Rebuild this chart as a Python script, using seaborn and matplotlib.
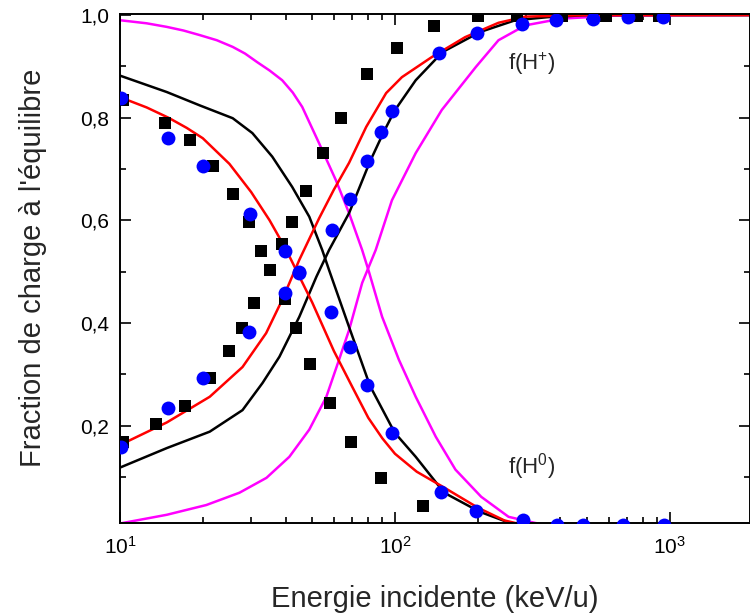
import numpy as np
import pandas as pd
import matplotlib
matplotlib.use("Agg")
import matplotlib.pyplot as plt
import seaborn as sns
from matplotlib.ticker import FixedLocator, FuncFormatter, LogLocator, NullFormatter

# experimental data, black squares (two branches)
sq_e_h0 = [10.25, 14.6, 18.0, 21.7, 25.8, 29.5, 32.5, 39.7, 43.8, 49.2, 58.0, 69.5, 89.1, 126]
sq_f_h0 = [0.835, 0.790, 0.757, 0.705, 0.652, 0.596, 0.540, 0.447, 0.390, 0.320, 0.243, 0.167, 0.097, 0.043]
sq_e_hp = [10.25, 13.5, 17.2, 21.2, 25.0, 27.8, 30.7, 35.1, 38.7, 42.4, 47.6, 54.7, 63.5, 79.4,
           101.6, 139, 200, 278, 406, 584, 762, 913]
sq_f_hp = [0.167, 0.202, 0.239, 0.293, 0.346, 0.390, 0.439, 0.503, 0.553, 0.596, 0.658, 0.732, 0.800, 0.885,
           0.936, 0.979, 0.998, 0.998, 0.998, 0.998, 0.998, 0.998]

# blue circles
ci_e_h0 = [10.1, 14.9, 20.0, 29.7, 39.7, 44.8, 58.4, 68.4, 79.4, 97.6, 147, 197, 292, 390, 484, 673, 951]
ci_f_h0 = [0.839, 0.761, 0.705, 0.612, 0.540, 0.500, 0.421, 0.353, 0.278, 0.186, 0.070, 0.033, 0.016,
           0.006, 0.006, 0.006, 0.006]
ci_e_hp = [10.1, 14.9, 20.0, 29.5, 39.7, 44.8, 59.0, 68.4, 79.4, 89.1, 97.6, 145, 198, 290, 384, 525, 707, 944]
ci_f_hp = [0.159, 0.235, 0.293, 0.383, 0.458, 0.497, 0.581, 0.641, 0.715, 0.773, 0.814, 0.926, 0.965,
           0.983, 0.990, 0.992, 0.996, 0.996]

# calculations (curves)
red_e_h0 = [10, 12.5, 15, 17.5, 20, 25, 30, 35, 40, 50, 60, 70, 80, 90, 100, 120, 150, 200, 250, 300, 500, 2000]
red_f_h0 = [0.84, 0.82, 0.80, 0.78, 0.76, 0.71, 0.655, 0.60, 0.545, 0.44, 0.345, 0.275, 0.215, 0.175, 0.145,
            0.11, 0.08, 0.04, 0.015, 0.005, 0.0, 0.0]
red_e_hp = [10, 14.8, 21.2, 27.9, 34.0, 38.9, 44.9, 53.0, 60.0, 68.1, 78.6, 92.9, 106, 136, 180, 238, 298,
            500, 2000]
red_f_hp = [0.162, 0.206, 0.256, 0.314, 0.380, 0.445, 0.523, 0.604, 0.660, 0.712, 0.782, 0.848, 0.879, 0.918,
            0.957, 0.985, 0.997, 1.0, 1.0]

blk_e_h0 = [10, 14.8, 19.5, 25.7, 30.3, 35.8, 42.3, 48.8, 54.4, 57.6, 68.1, 81.2, 99.8, 119, 151, 203,
            259, 320, 2000]
blk_f_h0 = [0.882, 0.850, 0.824, 0.799, 0.770, 0.724, 0.665, 0.607, 0.542, 0.503, 0.392, 0.277, 0.186,
            0.139, 0.069, 0.032, 0.011, 0.0, 0.0]
blk_e_hp = [10, 14.8, 21.2, 27.9, 33.0, 38.0, 44.9, 51.8, 57.6, 68.1, 81.2, 91.2, 99.8, 119, 149, 204,
            274, 360, 500, 2000]
blk_f_hp = [0.118, 0.156, 0.188, 0.230, 0.283, 0.334, 0.412, 0.490, 0.542, 0.614, 0.715, 0.773, 0.814,
            0.873, 0.928, 0.967, 0.990, 0.996, 1.0, 1.0]

mag_e_h0 = [10, 12.5, 14.8, 17.0, 19.5, 22.5, 25.7, 28.5, 31.6, 35.0, 38.9, 42.5, 46.0, 53.0, 61.0, 68.1,
            76.0, 80.5, 89.8, 103.4, 119, 140.8, 166, 206, 259, 324, 420, 2000]
mag_f_h0 = [0.990, 0.984, 0.977, 0.970, 0.961, 0.951, 0.938, 0.925, 0.908, 0.892, 0.873, 0.849, 0.821,
            0.750, 0.678, 0.614, 0.542, 0.499, 0.412, 0.328, 0.256, 0.178, 0.114, 0.061, 0.022, 0.010,
            0.0, 0.0]
mag_e_hp = [10, 14.8, 20.6, 27.2, 34.1, 41.3, 48.8, 56.3, 62.6, 68.1, 76.0, 85.1, 97.5, 119, 148, 197,
            238, 298, 402, 632, 2000]
mag_f_hp = [0.009, 0.026, 0.045, 0.069, 0.098, 0.139, 0.192, 0.256, 0.328, 0.386, 0.478, 0.542, 0.639,
            0.731, 0.815, 0.899, 0.951, 0.980, 0.993, 0.999, 1.0]

sns.set_style("ticks")
plt.rcParams['font.family'] = ['Liberation Sans', 'DejaVu Sans']
plt.rcParams['mathtext.fontset'] = 'custom'
plt.rcParams['mathtext.rm'] = 'Liberation Sans'
plt.rcParams['mathtext.default'] = 'regular'

fig = plt.figure(figsize=(7.5, 6.16), dpi=100)
ax = fig.add_axes([0.16, 0.151, 0.8395, 0.827])
ax.set_xscale('log')

curves = [
    (mag_e_h0, mag_f_h0, '#ff00ff'), (mag_e_hp, mag_f_hp, '#ff00ff'),
    (blk_e_h0, blk_f_h0, 'black'), (blk_e_hp, blk_f_hp, 'black'),
    (red_e_h0, red_f_h0, '#ff0000'), (red_e_hp, red_f_hp, '#ff0000'),
]
for e, f, c in curves:
    sns.lineplot(x=e, y=f, color=c, linewidth=1.8, estimator=None, sort=False, ax=ax)

sns.scatterplot(x=sq_e_h0 + sq_e_hp, y=sq_f_h0 + sq_f_hp, marker='s', s=70, color='black',
                linewidth=0, ax=ax, zorder=5)
sns.scatterplot(x=ci_e_h0 + ci_e_hp, y=ci_f_h0 + ci_f_hp, marker='o', s=100, color='#0000ff',
                linewidth=0, ax=ax, zorder=6)

ax.set_xlim(10, 1950)
ax.set_ylim(0.01, 1.003)
ax.yaxis.set_major_locator(FixedLocator([0.2, 0.4, 0.6, 0.8, 1.0]))
ax.yaxis.set_minor_locator(FixedLocator([0.1, 0.3, 0.5, 0.7, 0.9]))
ax.yaxis.set_major_formatter(FuncFormatter(lambda v, p: f"{v:.1f}".replace('.', ',')))
ax.xaxis.set_major_locator(LogLocator(base=10, numticks=10))
ax.xaxis.set_minor_locator(LogLocator(base=10, subs=np.arange(2, 10), numticks=20))
ax.xaxis.set_minor_formatter(NullFormatter())

ax.tick_params(which='both', direction='in', top=True, right=True, width=1.2, labelsize=15,
               colors='black')
ax.tick_params(which='major', length=8)
ax.tick_params(which='minor', length=4.5)
ax.tick_params(axis='y', pad=8)
ax.tick_params(axis='x', pad=9)
for sp in ax.spines.values():
    sp.set_linewidth(1.4)
    sp.set_color('black')

ax.set_xlabel('Energie incidente (keV/u)', fontsize=21, labelpad=20)
ax.set_ylabel("Fraction de charge à l'équilibre", fontsize=21, labelpad=24)

ax.text(258, 0.906, 'f(H$^{+}$)', fontsize=16, ha='left', va='center')
ax.text(258, 0.12, 'f(H$^{0}$)', fontsize=16, ha='left', va='center')

fig.savefig('out.png', dpi=100)
